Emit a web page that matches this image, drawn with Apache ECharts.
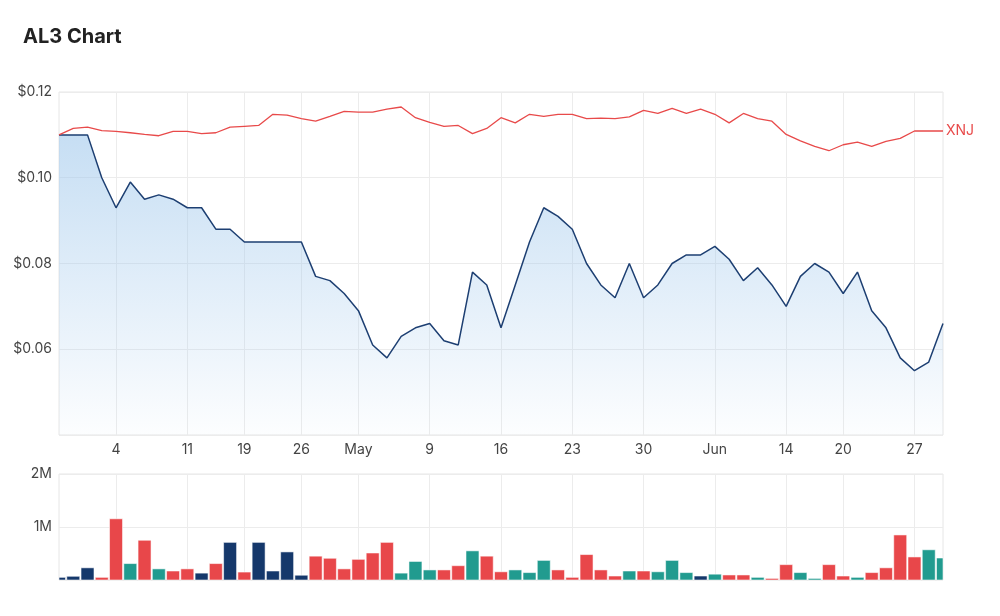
<!DOCTYPE html>
<html>
<head>
<meta charset="utf-8">
<title>AL3 Chart</title>
<script src="https://cdn.jsdelivr.net/npm/echarts@6/dist/echarts.min.js"></script>
<style>
  html, body { margin: 0; padding: 0; background: #fff; }
  #chart { width: 1000px; height: 616px; }
</style>
</head>
<body>
<div id="chart"></div>
<script>
// trading days shown on the chart
const dates = [
  '2022-03-29','2022-03-30','2022-03-31','2022-04-01','2022-04-04','2022-04-05','2022-04-06','2022-04-07','2022-04-08',
  '2022-04-11','2022-04-12','2022-04-13','2022-04-14','2022-04-19','2022-04-20','2022-04-21','2022-04-22',
  '2022-04-26','2022-04-27','2022-04-28','2022-04-29','2022-05-02','2022-05-03','2022-05-04','2022-05-05','2022-05-06',
  '2022-05-09','2022-05-10','2022-05-11','2022-05-12','2022-05-13','2022-05-16','2022-05-17','2022-05-18','2022-05-19','2022-05-20',
  '2022-05-23','2022-05-24','2022-05-25','2022-05-26','2022-05-27','2022-05-30','2022-05-31','2022-06-01','2022-06-02','2022-06-03',
  '2022-06-06','2022-06-07','2022-06-08','2022-06-09','2022-06-10','2022-06-14','2022-06-15','2022-06-16','2022-06-17',
  '2022-06-20','2022-06-21','2022-06-22','2022-06-23','2022-06-24','2022-06-27','2022-06-28','2022-06-29'
];

// AL3 close price
const al3 = [
  0.110, 0.110, 0.110, 0.100, 0.093, 0.099, 0.095, 0.096, 0.095, 0.093,
  0.093, 0.088, 0.088, 0.085, 0.085, 0.085, 0.085, 0.085, 0.077, 0.076,
  0.073, 0.069, 0.061, 0.058, 0.063, 0.065, 0.066, 0.062, 0.061, 0.078,
  0.075, 0.065, 0.075, 0.085, 0.093, 0.091, 0.088, 0.080, 0.075, 0.072,
  0.080, 0.072, 0.075, 0.080, 0.082, 0.082, 0.084, 0.081, 0.076, 0.079,
  0.075, 0.070, 0.077, 0.080, 0.078, 0.073, 0.078, 0.069, 0.065, 0.058,
  0.055, 0.057, 0.066
];

// XNJ index, rebased to AL3 start
const xnj = [
  0.1100, 0.1115, 0.1118, 0.1110, 0.1108, 0.1105, 0.1101, 0.1098, 0.1108, 0.1108,
  0.1103, 0.1105, 0.1118, 0.1120, 0.1122, 0.1148, 0.1146, 0.1138, 0.1132, 0.1143,
  0.1155, 0.1153, 0.1153, 0.1160, 0.1165, 0.1140, 0.1129, 0.1120, 0.1122, 0.1103,
  0.1115, 0.1140, 0.1128, 0.1148, 0.1143, 0.1148, 0.1148, 0.1138, 0.1139, 0.1138,
  0.1142, 0.1157, 0.1150, 0.1162, 0.1150, 0.1160, 0.1148, 0.1128, 0.1150, 0.1138,
  0.1132, 0.1101, 0.1086, 0.1073, 0.1063, 0.1077, 0.1083, 0.1073, 0.1085, 0.1092,
  0.1109, 0.1109, 0.1109
];

// traded volume
const volume = [
  50000, 70000, 230000, 50000, 1155000, 310000, 750000, 210000, 170000, 210000,
  130000, 310000, 710000, 150000, 710000, 170000, 530000, 90000, 450000, 410000,
  210000, 390000, 510000, 710000, 130000, 350000, 190000, 190000, 270000, 550000,
  450000, 155000, 190000, 140000, 370000, 190000, 50000, 480000, 190000, 75000,
  170000, 170000, 155000, 370000, 140000, 75000, 110000, 95000, 95000, 50000,
  30000, 290000, 140000, 30000, 290000, 75000, 50000, 140000, 230000, 850000,
  435000, 570000, 415000
];

// weekly ticks on the date axis
const tickDates = ['2022-04-04','2022-04-11','2022-04-19','2022-04-26','2022-05-02','2022-05-09','2022-05-16',
  '2022-05-23','2022-05-30','2022-06-06','2022-06-14','2022-06-20','2022-06-27'];
const tickLabels = ['4','11','19','26','May','9','16','23','30','Jun','14','20','27'];

const UP = '#219b8f', DOWN = '#e8474a', FLAT = '#15386b';
const FONT = 'Inter, "Noto Sans", sans-serif';

const isTick = (i, v) => tickDates.indexOf(v) >= 0;

// 涨跌颜色
function barColor(i) {
  if (i === 0 || al3[i] === al3[i - 1]) return FLAT;
  return al3[i] > al3[i - 1] ? UP : DOWN;
}

let chart = echarts.init(document.getElementById('chart'), null, {renderer: 'canvas'});

let gridLine = {show: true, lineStyle: {color: '#ececec', width: 1}};
let labelStyle = {color: '#444', fontFamily: FONT, fontSize: 14};

let option = {
  animation: false,
  backgroundColor: '#fff',
  title: {
    text: 'AL3 Chart',
    left: 18, top: 22,
    textStyle: {fontFamily: FONT, fontSize: 20, fontWeight: 'bold', color: '#222'}
  },
  grid: [
    {left: 59, right: 57, top: 92, height: 343, show: true, borderColor: '#e6e6e6', borderWidth: 1},
    {left: 59, right: 57, top: 474, height: 106, show: true, borderColor: '#e6e6e6', borderWidth: 1}
  ],
  xAxis: [
    {
      type: 'category', gridIndex: 0, data: dates, boundaryGap: false,
      axisLine: {show: false}, axisTick: {show: false, interval: isTick},
      axisLabel: Object.assign({
        interval: isTick, margin: 8,
        formatter: v => tickLabels[tickDates.indexOf(v)]
      }, labelStyle),
      splitLine: Object.assign({interval: isTick}, gridLine)
    },
    {
      type: 'category', gridIndex: 1, data: dates, boundaryGap: false,
      axisLine: {show: false}, axisTick: {show: false, interval: isTick},
      axisLabel: {show: false, interval: isTick},
      splitLine: Object.assign({interval: isTick}, gridLine)
    }
  ],
  yAxis: [
    {
      type: 'value', gridIndex: 0, min: 0.04, max: 0.12, interval: 0.02,
      axisLine: {show: false}, axisTick: {show: false},
      axisLabel: Object.assign({
        showMinLabel: false, margin: 7,
        formatter: v => '$' + v.toFixed(2)
      }, labelStyle),
      splitLine: gridLine
    },
    {
      type: 'value', gridIndex: 1, min: 0, max: 2000000, interval: 1000000,
      axisLine: {show: false}, axisTick: {show: false},
      axisLabel: Object.assign({
        showMinLabel: false, margin: 7,
        formatter: v => (v / 1000000) + 'M'
      }, labelStyle),
      splitLine: gridLine
    }
  ],
  series: [
    {
      name: 'AL3', type: 'line', xAxisIndex: 0, yAxisIndex: 0,
      data: al3, symbol: 'none', z: 3,
      lineStyle: {color: '#1d3f72', width: 1.5},
      areaStyle: {
        origin: 'start',
        color: new echarts.graphic.LinearGradient(0, 0, 0, 1, [
          {offset: 0, color: 'rgba(160,200,236,0.85)'},
          {offset: 1, color: 'rgba(160,200,236,0.04)'}
        ])
      }
    },
    {
      name: 'XNJ', type: 'line', xAxisIndex: 0, yAxisIndex: 0,
      data: xnj, symbol: 'none', z: 4,
      lineStyle: {color: '#e84a4a', width: 1.3},
      endLabel: {
        show: true, formatter: 'XNJ', distance: 3,
        color: '#e84a4a', fontFamily: FONT, fontSize: 14
      }
    },
    {
      // 自定义柱子，裁剪到网格内（首尾半根）
      name: 'Volume', type: 'custom', xAxisIndex: 1, yAxisIndex: 1,
      data: volume.map((v, i) => [i, v]),
      encode: {x: 0, y: 1},
      renderItem(params, api) {
        let i = api.value(0);
        let top = api.coord([i, api.value(1)]);
        let base = api.coord([i, 0]);
        let w = api.size([1, 0])[0] * 0.91;
        let cs = params.coordSys;
        let shape = echarts.graphic.clipRectByRect(
          {x: top[0] - w / 2, y: top[1], width: w, height: base[1] - top[1]},
          {x: cs.x, y: cs.y, width: cs.width, height: cs.height}
        );
        if (!shape) return null;
        return {
          type: 'rect', shape: shape,
          style: {fill: barColor(i), stroke: 'rgba(255,255,255,0.55)', lineWidth: 1}
        };
      }
    }
  ]
};

chart.setOption(option);
window.addEventListener('resize', () => chart.resize());
</script>
</body>
</html>
